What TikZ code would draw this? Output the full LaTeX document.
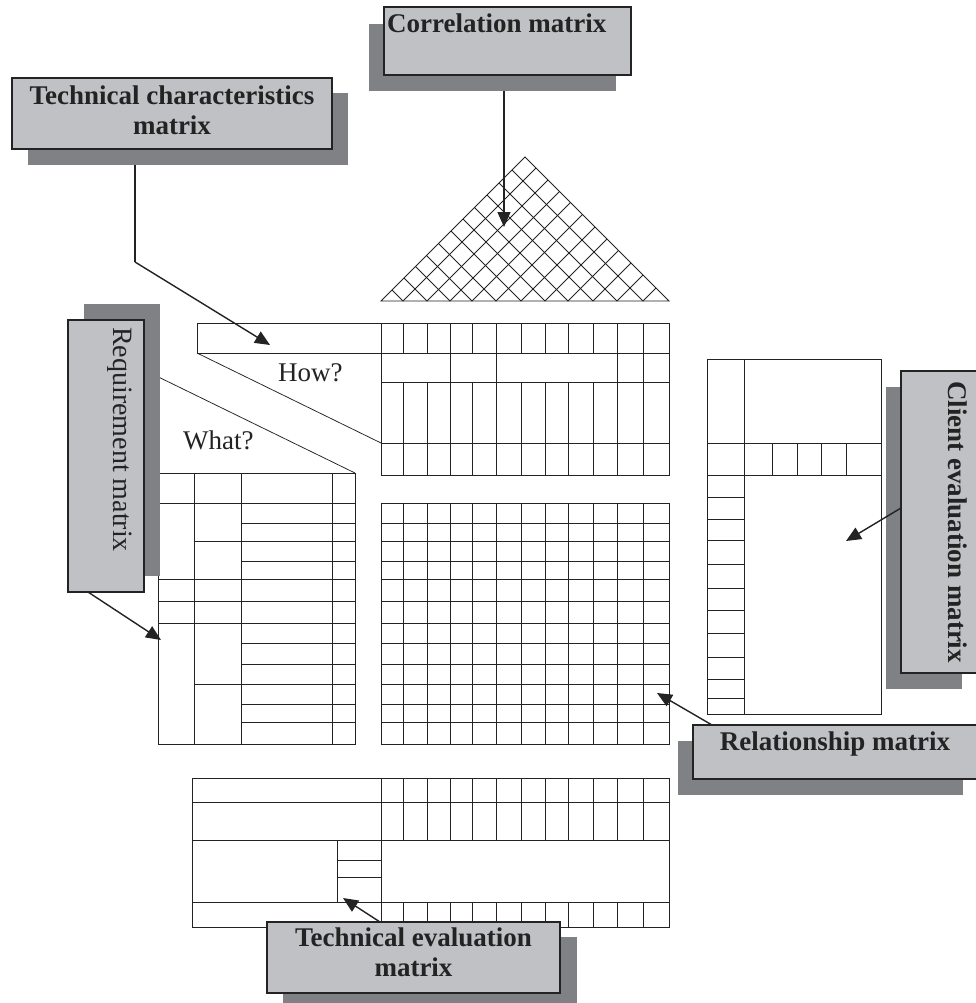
\documentclass[tikz,border=0pt]{standalone}
\usepackage{fontspec}
\setmainfont{Liberation Serif}
\usetikzlibrary{arrows.meta,calc}
\definecolor{boxgray}{RGB}{192,193,196}
\definecolor{shadegray}{RGB}{128,129,133}
\definecolor{ink}{RGB}{35,35,35}
\tikzset{
  gridline/.style={draw=ink, line width=0.9pt},
  thinline/.style={draw=ink, line width=0.75pt},
  shadowrect/.style={fill=shadegray, draw=none, inner sep=0pt, outer sep=0pt, anchor=north west},
  labelrect/.style={fill=boxgray, draw=ink, line width=1.4pt, inner sep=0pt, outer sep=0pt, anchor=north west},
  boldlbl/.style={font=\fontsize{27}{30}\selectfont\bfseries, inner sep=0pt, text=ink},
  plainlbl/.style={font=\fontsize{27}{30}\selectfont, inner sep=0pt, text=ink},
  conn/.style={draw=ink, line width=1.4pt, -{Triangle[length=15pt,width=13pt]}},
}
\begin{document}
\begin{tikzpicture}[x=1pt,y=-1pt]
\useasboundingbox (0,0) rectangle (976,1003);
\fill[white] (0,0) rectangle (976,1003);
\clip (0,0) rectangle (976,1003);

\def\colsinner{403,427,450,472,496,521,545,568,593,617,643}
\def\rowsinner{523,541,561,579,601,623,643,664,684,704,722}

% correlation roof: lattice of lines parallel to the two sides
\begin{scope}[gridline]
  \draw (381,301) -- (525,157) -- (669,301) -- cycle;
  \foreach \p in \colsinner {
    \draw (\p,301) -- ({(\p+381)/2},{301-(\p-381)/2});
    \draw (\p,301) -- ({(\p+669)/2},{301-(669-\p)/2});
  }
\end{scope}

% "how" bar and the two slanted separators
\draw[gridline] (197,323) rectangle (381,353);
\draw[thinline] (197,353) -- (381,443);
\draw[thinline] (140,368) -- (355,473);
\node[plainlbl, anchor=base west] (howText) at (278,381.5) {How?};
\node[plainlbl, anchor=base west] (whatText) at (183,449) {What?};

% technical characteristics block
\begin{scope}[gridline]
  \draw (381,323) rectangle (669,475);
  \foreach \y in {353,382,443} \draw (381,\y) -- (669,\y);
  \foreach \x in \colsinner {
    \draw (\x,323) -- (\x,353);
    \draw (\x,382) -- (\x,475);
  }
  \foreach \x in {450,496,617,643} \draw (\x,353) -- (\x,382);
\end{scope}

% relationship grid
\begin{scope}[gridline]
  \draw (381,503) rectangle (669,744);
  \foreach \y in \rowsinner \draw (381,\y) -- (669,\y);
  \foreach \x in \colsinner \draw (\x,503) -- (\x,744);
\end{scope}

% requirement block
\begin{scope}[gridline]
  \draw (158,473) rectangle (355,744);
  \foreach \x in {194,241,332} \draw (\x,473) -- (\x,744);
  \foreach \y in {503,523,541,561,579,601,623,643,664,684,704,722} \draw (241,\y) -- (355,\y);
  \foreach \y in {503,579,601,623} \draw (158,\y) -- (194,\y);
  \foreach \y in {503,541,579,601,623,684} \draw (194,\y) -- (241,\y);
\end{scope}

% client evaluation block
\begin{scope}[gridline]
  \draw (707,359) rectangle (881,714);
  \draw (744,359) -- (744,714);
  \draw (707,443) -- (881,443);
  \draw (707,475) -- (881,475);
  \foreach \x in {772,797,821,846} \draw (\x,443) -- (\x,475);
  \foreach \y in {497,519,540,564,588,610,633,657,679,698} \draw (707,\y) -- (744,\y);
\end{scope}

% technical evaluation block
\begin{scope}[gridline]
  \draw (192,778) rectangle (669,927);
  \draw (381,778) -- (381,927);
  \foreach \y in {802,840,902} \draw (192,\y) -- (669,\y);
  \foreach \x in \colsinner {
    \draw (\x,778) -- (\x,840);
    \draw (\x,902) -- (\x,927);
  }
  \draw (337,840) -- (337,902);
  \draw (337,860) -- (381,860);
  \draw (337,877) -- (381,877);
\end{scope}

% label boxes with their drop shadows
\node[shadowrect, minimum width=247pt, minimum height=67pt] (corrShadow) at (369,24) {};
\node[labelrect, minimum width=247pt, minimum height=68pt] (corrBox) at (384,7) {};
\node[boldlbl, anchor=base west] (corrText) at (387,33) {Correlation matrix};

\node[shadowrect, minimum width=320pt, minimum height=72pt] (techShadow) at (28,93) {};
\node[labelrect, minimum width=320pt, minimum height=71pt] (techBox) at (12,78) {};
\node[boldlbl, anchor=base] (techTextA) at (172,105) {Technical characteristics};
\node[boldlbl, anchor=base] (techTextB) at (172,135) {matrix};

\node[shadowrect, minimum width=76pt, minimum height=272pt] (reqShadow) at (84,304) {};
\node[labelrect, minimum width=76pt, minimum height=272pt] (reqBox) at (68,320) {};
\node[plainlbl, font=\fontsize{28}{30}\selectfont, rotate=-90, anchor=west] (reqText) at (120,327) {Requirement matrix};

\node[shadowrect, minimum width=76pt, minimum height=302pt] (cliShadow) at (886,387) {};
\node[labelrect, minimum width=90pt, minimum height=302pt] (cliBox) at (901,371) {};
\node[boldlbl, rotate=-90, anchor=center] (cliText) at (958,522) {Client evaluation matrix};

\node[shadowrect, minimum width=285pt, minimum height=54pt] (relShadow) at (678,741) {};
\node[labelrect, minimum width=290pt, minimum height=54pt] (relBox) at (693,725) {};
\node[boldlbl, anchor=base] (relText) at (835,750.5) {Relationship matrix};

\node[shadowrect, minimum width=294pt, minimum height=71pt] (evalShadow) at (283,937) {};
\node[labelrect, minimum width=293pt, minimum height=71pt] (evalBox) at (267,922) {};
\node[boldlbl, anchor=base] (evalTextA) at (413.5,946.5) {Technical evaluation};
\node[boldlbl, anchor=base] (evalTextB) at (413.5,976.5) {matrix};

% connectors from the labels to their matrices
\coordinate (corrTip) at (504,227);
\draw[conn] (corrShadow.south -| corrTip) -- (corrTip);

\coordinate (techBend) at (135,262);
\coordinate (techTip) at (270,345);
\draw[conn, -] (techShadow.south -| techBend) -- (techBend);
\draw[conn] (techBend) -- (techTip);

\coordinate (reqTip) at (161,640);
\draw[conn] ($(reqBox.south west)+(20,0)$) -- (reqTip);

\coordinate (cliTip) at (846,541);
\draw[conn] (cliBox.west |- 0,508) -- (cliTip);

\coordinate (relTip) at (657,693);
\draw[conn] ($(relBox.north west)+(19,0)$) -- (relTip);

\coordinate (evalTip) at (343,898);
\draw[conn] ($(evalBox.north west)+(113,0)$) -- (evalTip);
\end{tikzpicture}
\end{document}
